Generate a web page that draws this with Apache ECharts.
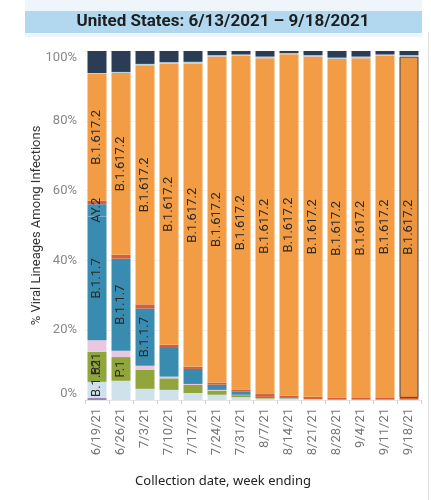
<!DOCTYPE html>
<html>
<head>
<meta charset="utf-8">
<script src="https://cdn.jsdelivr.net/npm/echarts@6/dist/echarts.min.js"></script>
<style>
html,body{margin:0;padding:0;background:#fff;}
#chart{width:431px;height:500px;}
</style>
</head>
<body>
<div id="chart"></div>
<script>
const titleText = 'United States: 6/13/2021 – 9/18/2021';
const categories = ['6/19/21','6/26/21','7/3/21','7/10/21','7/17/21','7/24/21','7/31/21','8/7/21','8/14/21','8/21/21','8/28/21','9/4/21','9/11/21','9/18/21'];
const yTicks = [0, 20, 40, 60, 80, 100];

// stacked shares (%) bottom to top
const b1526   = [0.6, 0,   0,   0,   0,   0,   0,   0,   0,   0,    0,   0,   0,   0];
const b1621   = [4.6, 5.5, 3.2, 2.9, 2.0, 1.5, 0.8, 0.4, 0.4, 0.2,  0.1, 0.1, 0.1, 0.1];
const p1      = [8.6, 6.8, 5.5, 3.3, 2.3, 1.2, 0.6, 0.2, 0.1, 0.05, 0,   0,   0,   0];
const b1427   = [3.3, 1.8, 1.1, 0.5, 0.3, 0.2, 0.1, 0,   0,   0,    0,   0,   0,   0];
const b117    = [35.5,26.4,16.4,8.2, 4.3, 1.5, 0.9, 0.3, 0.1, 0.05, 0,   0,   0,   0];
const ay2     = [3.5, 0,   0,   0,   0,   0,   0,   0,   0,   0,    0,   0,   0,   0];
const ay1     = [1.0, 1.1, 1.2, 0.9, 0.6, 0.6, 0.6, 0.8, 0.6, 0.6,  0.6, 0.5, 0.5, 0.5];
const b16172  = [36.3,52.1,68.5,80.6,86.9,93.4,95.6,96.2,97.9,97.5, 97.0,97.3,98.0,97.8];
const ay3     = [0.3, 0.3, 0.4, 0.4, 0.5, 0.4, 0.4, 0.5, 0.3, 0.4,  0.4, 0.5, 0.4, 0.4];
const other   = [6.3, 6.0, 3.7, 3.2, 3.1, 1.2, 1.0, 1.6, 0.6, 1.2,  1.9, 1.6, 1.0, 1.2];

// which bars carry a text label for each lineage
const labelIdxB16172 = [0,1,2,3,4,5,6,7,8,9,10,11,12,13];
const labelIdxB117 = [0,1,2];
const labelIdxP1 = [0,1];
const labelIdxAY2 = [0];
const labelIdxB1621 = [0];

const highlightIdx = 13;

function mk(name, values, color, labelIdx, bottomLabel) {
  return {
    type: 'bar', name: name, stack: 'total', barWidth: 19,
    itemStyle: { color: color },
    label: bottomLabel ? {
      show: false, position: 'insideBottom', distance: 1, rotate: 90,
      align: 'left', verticalAlign: 'middle',
      color: '#2a2a2a', fontSize: 13, fontFamily: 'Roboto', formatter: '{a}'
    } : {
      show: false, position: 'inside', rotate: 90,
      align: 'center', verticalAlign: 'middle',
      color: '#2a2a2a', fontSize: 13, fontFamily: 'Roboto', formatter: '{a}'
    },
    emphasis: { disabled: true },
    data: values.map(function (v, i) {
      const d = { value: v, label: { show: labelIdx.indexOf(i) >= 0 } };
      if (name === 'B.1.617.2' && i === highlightIdx) {
        d.itemStyle = { color: '#ee963f', borderColor: '#444', borderWidth: 1 };
      }
      return d;
    })
  };
}

const chart = echarts.init(document.getElementById('chart'), null, { renderer: 'canvas' });
chart.setOption({
  animation: false,
  backgroundColor: '#ffffff',
  textStyle: { fontFamily: 'Roboto' },
  graphic: [
    { type: 'rect', shape: { x: 25, y: 0, width: 397, height: 37 }, style: { fill: '#eef6fb' }, silent: true },
    { type: 'rect', shape: { x: 25, y: 11, width: 397, height: 22 }, style: { fill: '#b2d8ef' }, silent: true },
    { type: 'text', x: 223, y: 22, style: { text: titleText, fill: '#1e1e1e', font: 'bold 17px Roboto', textAlign: 'center', textVerticalAlign: 'middle' }, silent: true },
    { type: 'line', shape: { x1: 428.5, y1: 32, x2: 428.5, y2: 500 }, style: { stroke: '#e2e2e2', lineWidth: 1 }, silent: true }
  ],
  grid: { left: 85, right: 10, top: 51, bottom: 100 },
  xAxis: {
    type: 'category', data: categories,
    name: 'Collection date, week ending', nameLocation: 'middle', nameGap: 75,
    nameMoveOverlap: false,
    nameTextStyle: { color: '#222', fontSize: 13, fontFamily: 'Noto Sans', padding: [0, 60, 0, 0] },
    axisLine: { show: true, lineStyle: { color: '#e6e6e6' } },
    axisTick: { show: true, length: 4, lineStyle: { color: '#d0d0d0' } },
    axisLabel: { rotate: 90, margin: 8, color: '#777', fontSize: 13, fontFamily: 'Roboto' }
  },
  yAxis: {
    type: 'value', min: yTicks[0], max: yTicks[yTicks.length - 1], interval: 20,
    name: '% Viral Lineages Among Infections', nameLocation: 'middle', nameGap: 42,
    nameMoveOverlap: false,
    nameTextStyle: { color: '#333', fontSize: 13, fontFamily: 'Roboto' },
    axisLine: { show: false }, axisTick: { show: false },
    axisLabel: { formatter: '{value}%', color: '#888', fontSize: 13, margin: 8,
      verticalAlignMinLabel: 'bottom', verticalAlignMaxLabel: 'top' },
    splitLine: { lineStyle: { color: '#f0f0f0' } }
  },
  series: [
    mk('B.1.526', b1526, '#9d83bb', [], false),
    mk('B.1.621', b1621, '#cfe1eb', labelIdxB1621, true),
    mk('P.1', p1, '#91a53d', labelIdxP1, false),
    mk('B.1.427/429', b1427, '#eac7e0', [], false),
    mk('B.1.1.7', b117, '#3a8bb0', labelIdxB117, false),
    mk('AY.2', ay2, '#4191b6', labelIdxAY2, false),
    mk('AY.1', ay1, '#d45f39', [], false),
    mk('B.1.617.2', b16172, '#f29d45', labelIdxB16172, false),
    mk('AY.3', ay3, '#bcd3e0', [], false),
    mk('Other', other, '#2b3d55', [], false)
  ]
});
</script>
</body>
</html>
